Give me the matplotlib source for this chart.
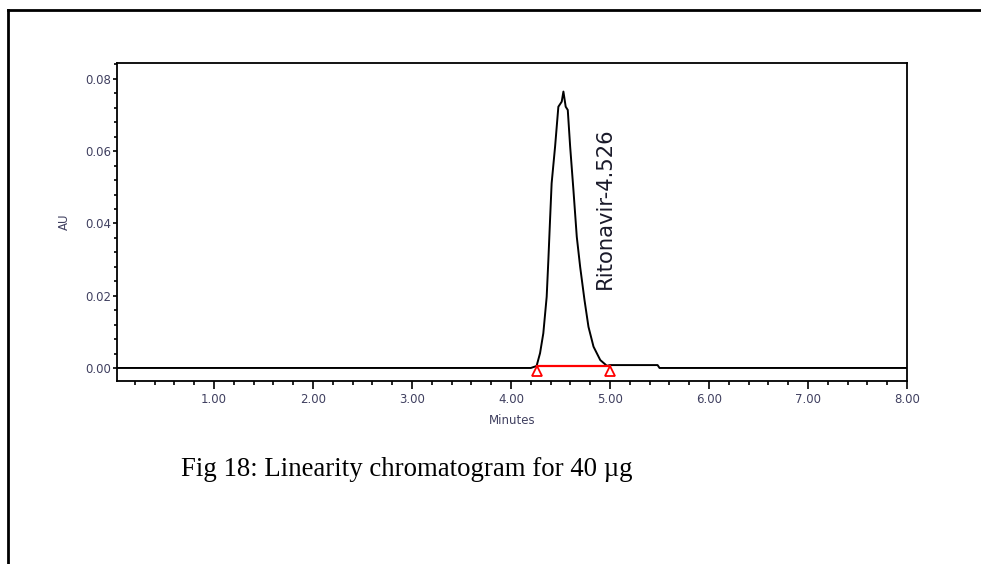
import matplotlib
matplotlib.use('Agg')
import matplotlib.pyplot as plt
from matplotlib.lines import Line2D
from matplotlib.ticker import MultipleLocator, FixedLocator

# chromatogram trace (minutes, AU)
rt = [0.02, 4.20, 4.258, 4.293, 4.326, 4.360, 4.377, 4.394, 4.410, 4.445,
      4.478, 4.512, 4.529, 4.552, 4.573, 4.597, 4.630, 4.664, 4.698, 4.742,
      4.782, 4.833, 4.901, 4.968, 5.00, 5.48, 5.50, 8.00]
au = [0.0, 0.0, 0.00055, 0.0041, 0.0096, 0.0197, 0.0299, 0.0410, 0.0511, 0.0613,
      0.0723, 0.0737, 0.0765, 0.0723, 0.0714, 0.0613, 0.0493, 0.0363, 0.0280, 0.0188,
      0.0114, 0.0059, 0.0022, 0.0006, 0.0008, 0.0008, 0.0, 0.0]

# integration baseline of the peak
base_start = 4.26
base_end = 5.00
base_level = 0.0006
peak_name = 'Ritonavir'
peak_rt = 4.526

xticks = [1, 2, 3, 4, 5, 6, 7, 8]
yticks = [0.0, 0.02, 0.04, 0.06, 0.08]

fig = plt.figure(figsize=(9.81, 5.64), dpi=100)
ax = fig.add_axes([0.1193, 0.3245, 0.8053, 0.5638])

ax.plot(rt, au, color='black', lw=1.4)
ax.plot([base_start, base_end], [base_level, base_level], color='red', lw=1.6)
ax.plot([base_start, base_end], [-0.0009, -0.0009], ls='none', marker='^',
        mfc='white', mec='red', ms=7, mew=1.3)

ax.text(peak_rt + 0.42, 0.0218, '%s-%.3f' % (peak_name, peak_rt), rotation=90,
        fontsize=15.2, color='#1a1a2a', ha='center', va='bottom')

ax.set_xlim(0.02, 8.0)
ax.set_ylim(-0.0036, 0.0844)

tick_col = '#404060'
ax.xaxis.set_major_locator(FixedLocator(xticks))
ax.xaxis.set_minor_locator(MultipleLocator(0.2))
ax.yaxis.set_major_locator(FixedLocator(yticks))
ax.yaxis.set_minor_locator(MultipleLocator(0.004))
ax.set_xticklabels(['%.2f' % v for v in xticks])
ax.set_yticklabels(['%.2f' % v for v in yticks])
ax.tick_params(axis='x', which='major', direction='out', length=5.5, width=1.2,
               labelsize=8.5, labelcolor=tick_col, pad=3)
ax.tick_params(axis='x', which='minor', direction='out', length=3, width=1.2)
ax.tick_params(axis='y', which='major', direction='out', length=3, width=1.2,
               labelsize=8.5, labelcolor=tick_col, pad=1.5)
ax.tick_params(axis='y', which='minor', direction='out', length=2.5, width=1.2)
for sp in ax.spines.values():
    sp.set_linewidth(1.3)

ax.set_xlabel('Minutes', fontsize=8.5, color=tick_col, labelpad=6)
ax.set_ylabel('AU', fontsize=8.5, color=tick_col, labelpad=10)

fig.text(0.1845, 0.167, 'Fig 18: Linearity chromatogram for 40 µg',
         family='Liberation Serif', fontsize=19.3, va='center', ha='left')

# page border
fig.add_artist(Line2D([0.008, 1.0], [0.982, 0.982], color='black', lw=2,
                      transform=fig.transFigure))
fig.add_artist(Line2D([0.008, 0.008], [0.0, 0.982], color='black', lw=2,
                      transform=fig.transFigure))

fig.savefig('out.png', dpi=100)
